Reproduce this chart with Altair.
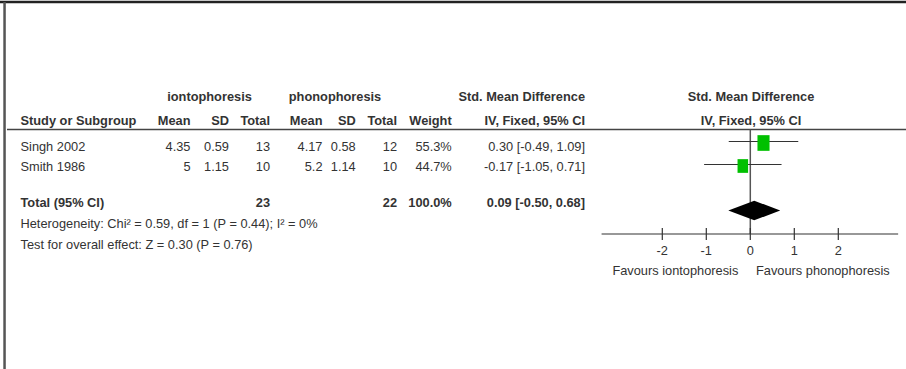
import altair as alt
import pandas as pd

# ---------------- data ----------------
studies = ["Singh 2002", "Smith 1986"]
iont_mean = [4.35, 5]
iont_sd = [0.59, 1.15]
iont_total = [13, 10]
phon_mean = [4.17, 5.2]
phon_sd = [0.58, 1.14]
phon_total = [12, 10]
weights = [55.3, 44.7]
smd = [0.30, -0.17]
ci_low = [-0.49, -1.05]
ci_high = [1.09, 0.71]

total_label = "Total (95% CI)"
total_iont = 23
total_phon = 22
total_weight = 100.0
total_smd = 0.09
total_low = -0.50
total_high = 0.68

heterogeneity = "Heterogeneity: Chi² = 0.59, df = 1 (P = 0.44); I² = 0%"
overall_effect = "Test for overall effect: Z = 0.30 (P = 0.76)"
tick_values = [-2, -1, 0, 1, 2]
axis_extent = [-3.38, 3.36]
favours_left = "Favours iontophoresis"
favours_right = "Favours phonophoresis"

# ---------------- layout ----------------
W, H = 906, 369
ZERO_PX = 750.3          # where effect 0 sits
UNIT_PX = 44.0           # pixels per SMD unit
X_DOMAIN = [-ZERO_PX / UNIT_PX, (W - ZERO_PX) / UNIT_PX]
FONT = "Liberation Sans"
FS = 12.8
TXT = "#333333"
GREEN = "#00C000"


def px_to_x(px):
    return (px - ZERO_PX) / UNIT_PX


xscale = alt.Scale(domain=X_DOMAIN, range=[0, W], nice=False, zero=False)
X = lambda f: alt.X(f, scale=xscale, axis=None)
Y = lambda f: alt.Y(f, scale=None, axis=None)

# baselines of the text rows
Y_GROUP, Y_HEAD = 100.7, 125.0
Y_ROWS = [150.5, 170.5]
Y_TOTAL, Y_HET, Y_TEST = 206.7, 228.3, 249.0
Y_TICKLAB, Y_FAV = 255.0, 275.0
# mark rows
CI_Y = [141.5, 164.5]
DIAMOND_Y, DIAMOND_H = 210.5, 9.8
AXIS_Y = 234.0
HEADER_LINE_Y = 129.5

# table column anchors (pixels)
C_STUDY = 20.5
C_IM, C_ISD, C_IN = 190.5, 229.0, 270.0
C_PM, C_PSD, C_PN = 322.5, 355.7, 397.0
C_W, C_CI = 451.7, 585.0
G_I, G_P, C_FOREST = 209.5, 335.0, 751.0

fmt = lambda v: f"{v:g}"
ci_fmt = lambda e, lo, hi: f"{e:.2f} [{lo:.2f}, {hi:.2f}]"

cells = []


def cell(t, px, y, align="right", bold=False):
    cells.append(dict(t=t, x=px_to_x(px), y=y, align=align, bold=bold))


# group headers
cell("iontophoresis", G_I, Y_GROUP, "center", True)
cell("phonophoresis", G_P, Y_GROUP, "center", True)
cell("Std. Mean Difference", C_CI, Y_GROUP, "right", True)
cell("Std. Mean Difference", C_FOREST, Y_GROUP, "center", True)
# column headers
cell("Study or Subgroup", C_STUDY, Y_HEAD, "left", True)
for t, c in [("Mean", C_IM), ("SD", C_ISD), ("Total", C_IN),
             ("Mean", C_PM), ("SD", C_PSD), ("Total", C_PN),
             ("Weight", C_W), ("IV, Fixed, 95% CI", C_CI)]:
    cell(t, c, Y_HEAD, "right", True)
cell("IV, Fixed, 95% CI", C_FOREST, Y_HEAD, "center", True)
# study rows
for i, s in enumerate(studies):
    y = Y_ROWS[i]
    cell(s, C_STUDY, y, "left")
    cell(fmt(iont_mean[i]), C_IM, y)
    cell(fmt(iont_sd[i]), C_ISD, y)
    cell(fmt(iont_total[i]), C_IN, y)
    cell(fmt(phon_mean[i]), C_PM, y)
    cell(fmt(phon_sd[i]), C_PSD, y)
    cell(fmt(phon_total[i]), C_PN, y)
    cell(f"{weights[i]:.1f}%", C_W, y)
    cell(ci_fmt(smd[i], ci_low[i], ci_high[i]), C_CI, y)
# total row
cell(total_label, C_STUDY, Y_TOTAL, "left", True)
cell(fmt(total_iont), C_IN, Y_TOTAL, "right", True)
cell(fmt(total_phon), C_PN, Y_TOTAL, "right", True)
cell(f"{total_weight:.1f}%", C_W, Y_TOTAL, "right", True)
cell(ci_fmt(total_smd, total_low, total_high), C_CI, Y_TOTAL, "right", True)
# footnotes
cell(heterogeneity, C_STUDY, Y_HET, "left")
cell(overall_effect, C_STUDY, Y_TEST, "left")
# favours labels
cell(favours_left, 738.3, Y_FAV, "right")
cell(favours_right, 756.0, Y_FAV, "left")

cells_df = pd.DataFrame(cells)
# tick labels sit on the effect scale
tick_df = pd.DataFrame({"v": tick_values, "t": [str(v) for v in tick_values], "y": Y_TICKLAB})

text_layers = []
for (align, bold), g in cells_df.groupby(["align", "bold"]):
    text_layers.append(
        alt.Chart(g.reset_index(drop=True)).mark_text(
            align=align, baseline="alphabetic", font=FONT, fontSize=FS,
            fontWeight="bold" if bold else "normal", color=TXT,
        ).encode(x=X("x:Q"), y=Y("y:Q"), text="t:N")
    )

tick_labels = alt.Chart(tick_df).mark_text(
    align="center", baseline="alphabetic", font=FONT, fontSize=FS, color=TXT
).encode(x=X("v:Q"), y=Y("y:Q"), text="t:N")

# frame: dark band along the top, grey band down the left side
frame_df = pd.DataFrame({"a": [0]})
top_border = alt.Chart(frame_df).mark_rect(color="#222222", strokeWidth=0).encode(
    x=alt.value(0), x2=alt.value(W), y=alt.value(0.8), y2=alt.value(3.3))
left_border = alt.Chart(frame_df).mark_rect(color="#555555", strokeWidth=0).encode(
    x=alt.value(3.3), x2=alt.value(5.8), y=alt.value(2), y2=alt.value(H))
header_line = alt.Chart(frame_df).mark_rule(color="#444444", strokeWidth=1.3).encode(
    x=alt.value(7), x2=alt.value(W), y=alt.value(HEADER_LINE_Y))

# forest plot
zero_line = alt.Chart(pd.DataFrame({"v": [0]})).mark_rule(color="#555555", strokeWidth=1.5).encode(
    x=X("v:Q"), y=alt.value(HEADER_LINE_Y), y2=alt.value(AXIS_Y))
axis_line = alt.Chart(pd.DataFrame({"lo": [axis_extent[0]], "hi": [axis_extent[1]]})).mark_rule(
    color="#333333", strokeWidth=1.2).encode(x=X("lo:Q"), x2="hi:Q", y=alt.value(AXIS_Y))
ticks = alt.Chart(pd.DataFrame({"v": tick_values})).mark_rule(color="#333333", strokeWidth=1.2).encode(
    x=X("v:Q"), y=alt.value(AXIS_Y - 6), y2=alt.value(AXIS_Y + 6))

study_df = pd.DataFrame({
    "study": studies, "smd": smd, "lo": ci_low, "hi": ci_high,
    "w": weights, "yc": CI_Y, "ys": [v + 1.5 for v in CI_Y],
})
ci_lines = alt.Chart(study_df).mark_rule(color="#333333", strokeWidth=1.2).encode(
    x=X("lo:Q"), x2="hi:Q", y=Y("yc:Q"))
squares = alt.Chart(study_df).mark_point(
    shape="M-0.77,-1L0.77,-1L0.77,1L-0.77,1Z", filled=True, opacity=1, color=GREEN, strokeWidth=0
).encode(
    x=X("smd:Q"), y=Y("ys:Q"),
    size=alt.Size("w:Q", scale=alt.Scale(domain=[44.7, 55.3], range=[188, 246]), legend=None),
)

diamond_df = pd.DataFrame({
    "x": [total_low, total_smd, total_high],
    "y": [DIAMOND_Y, DIAMOND_Y - DIAMOND_H, DIAMOND_Y],
    "y2": [DIAMOND_Y, DIAMOND_Y + DIAMOND_H, DIAMOND_Y],
})
diamond = alt.Chart(diamond_df).mark_area(color="#000000", orient="vertical", opacity=1).encode(
    x=X("x:Q"), y=Y("y:Q"), y2="y2:Q")

chart = alt.layer(
    top_border, left_border, header_line,
    zero_line, axis_line, ticks, ci_lines, squares, diamond,
    tick_labels, *text_layers,
).properties(
    width=W, height=H, autosize=alt.AutoSizeParams(type="none"), padding=0,
    background="white",
).configure_view(stroke=None)

chart.save("out.html", embed_options={"renderer": "svg", "actions": False})
